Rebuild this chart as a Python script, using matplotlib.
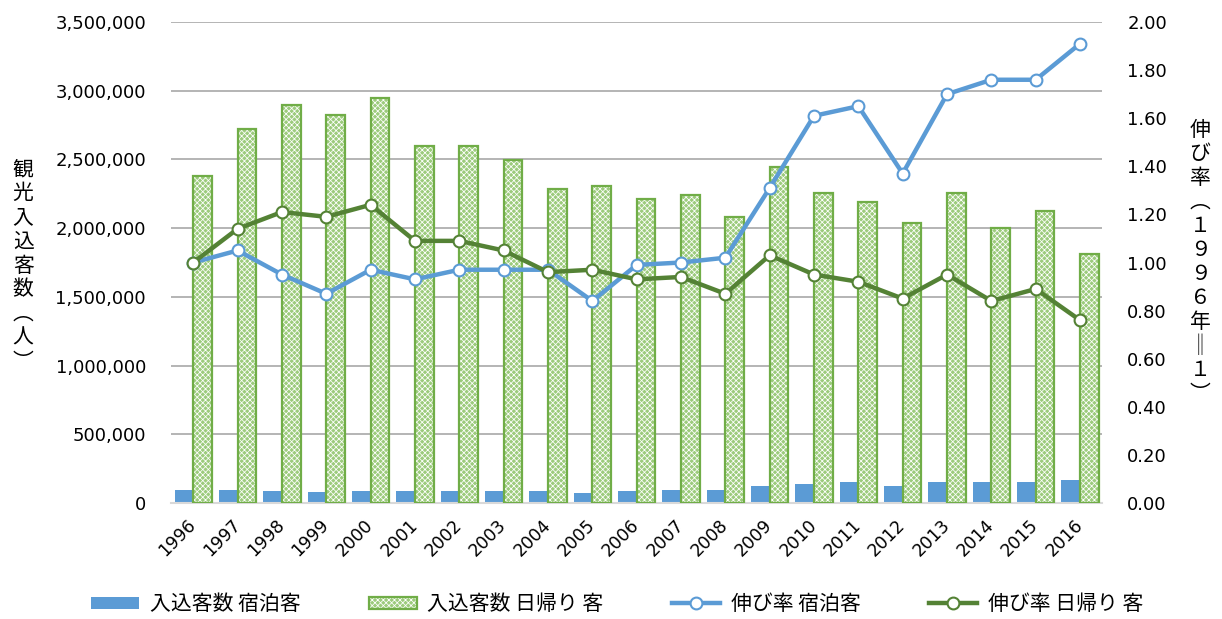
import matplotlib
matplotlib.use("Agg")
import matplotlib.pyplot as plt
import numpy as np
from matplotlib.ticker import FuncFormatter, MultipleLocator

# data
years = [str(y) for y in range(1996, 2017)]
stay = [95000, 98000, 85000, 83000, 84000, 84000, 85000, 85000, 85000, 75000, 85000,
        95000, 97000, 122000, 137000, 152000, 125000, 152000, 153000, 153000, 165000]
day = [2380000, 2720000, 2895000, 2825000, 2950000, 2595000, 2595000, 2495000, 2285000, 2310000, 2215000,
       2240000, 2080000, 2445000, 2258000, 2190000, 2040000, 2258000, 2000000, 2122000, 1810000]
rate_stay = [1.00, 1.05, 0.95, 0.87, 0.97, 0.93, 0.97, 0.97, 0.97, 0.84, 0.99,
             1.00, 1.02, 1.31, 1.61, 1.65, 1.37, 1.70, 1.76, 1.76, 1.91]
rate_day = [1.00, 1.14, 1.21, 1.19, 1.24, 1.09, 1.09, 1.05, 0.96, 0.97, 0.93,
            0.94, 0.87, 1.03, 0.95, 0.92, 0.85, 0.95, 0.84, 0.89, 0.76]
labels = ['入込客数 宿泊客', '入込客数 日帰り 客', '伸び率 宿泊客', '伸び率 日帰り 客']
ylab_left = ['観', '光', '入', '込', '客', '数', '︵', '人', '︶']
ylab_right = ['伸', 'び', '率', '︵', '１', '９', '９', '６', '年', '‖', '１', '︶']

plt.rcParams['font.family'] = ['DejaVu Sans', 'Noto Sans CJK JP']
plt.rcParams['hatch.color'] = 'white'
plt.rcParams['hatch.linewidth'] = 0.55

blue = '#5b9bd5'
green = '#548235'

fig = plt.figure(figsize=(12.22, 6.19), dpi=100)
ax = fig.add_axes([0.140, 0.1874, 0.762, 0.777])
ax2 = ax.twinx()

x = np.arange(len(years))
w = 0.42
b1 = ax.bar(x - w / 2, stay, w, color=blue, zorder=2)
b2 = ax.bar(x + w / 2, day, w, color='#9ccb7c', hatch='xxxxxx', zorder=2)
b3 = ax.bar(x + w / 2, day, w, fill=False, edgecolor='#70ad47', lw=1.6, zorder=3)

l1, = ax2.plot(x, rate_stay, color=blue, lw=3.2, marker='o', ms=8.5,
               mfc='white', mec=blue, mew=1.5, zorder=4)
l2, = ax2.plot(x, rate_day, color=green, lw=3.2, marker='o', ms=8.5,
               mfc='white', mec=green, mew=1.5, zorder=5)

ax.set_xlim(-0.5, len(years) - 0.5)
ax.set_ylim(0, 3500000)
ax2.set_ylim(0, 2.0)
ax.yaxis.set_major_locator(MultipleLocator(500000))
ax2.yaxis.set_major_locator(MultipleLocator(0.2))
ax.yaxis.set_major_formatter(FuncFormatter(lambda v, p: f'{int(v):,}'))
ax2.yaxis.set_major_formatter(FuncFormatter(lambda v, p: f'{v:.2f}'))

ax.set_axisbelow(True)
ax.yaxis.grid(True, color='#a0a0a0', lw=1.1)
for a in (ax, ax2):
    for s in ('top', 'left', 'right', 'bottom'):
        a.spines[s].set_visible(False)
ax.spines['bottom'].set_visible(True)
ax.spines['bottom'].set_color('#d9d9d9')
ax.spines['bottom'].set_linewidth(1.5)

ax.set_xticks(x)
ax.set_xticklabels(years, rotation=45, ha='right', va='center', rotation_mode='anchor', fontsize=12.5)
ax.tick_params(axis='x', length=0, pad=14)
ax.tick_params(axis='y', length=0, pad=18, labelsize=13)
ax2.tick_params(axis='y', length=0, pad=18, labelsize=13)

fig.text(0.019, 0.571, '\n'.join(ylab_left), ha='center', va='center',
         fontsize=15, linespacing=1.12, family=['Noto Sans CJK JP', 'DejaVu Sans'])
fig.text(0.982, 0.577, '\n'.join(ylab_right), ha='center', va='center',
         fontsize=15, linespacing=1.12, family=['Noto Sans CJK JP', 'DejaVu Sans'])

fig.legend([b1, (b2, b3), l1, l2], labels, loc='center', bbox_to_anchor=(0.505, 0.024),
           ncol=4, frameon=False, handlelength=2.3, handletextpad=0.5, columnspacing=3.3,
           handleheight=0.5, borderaxespad=0,
           prop={'family': ['Noto Sans CJK JP', 'DejaVu Sans'], 'size': 15})

fig.savefig('out.png', dpi=100)
